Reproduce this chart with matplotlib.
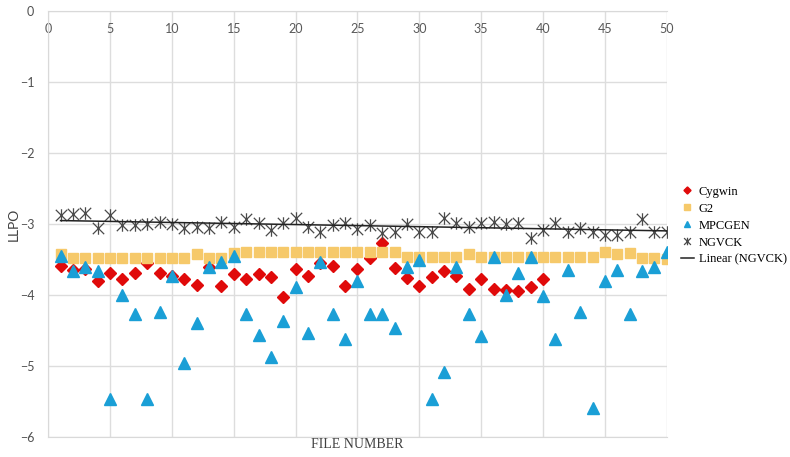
import numpy as np
import matplotlib.pyplot as plt
from matplotlib.path import Path

files = np.arange(1, 51)

cygwin = [-3.59, -3.65, -3.63, -3.80, -3.69, -3.77, -3.69, -3.55, -3.69, -3.74,
          -3.77, -3.86, -3.61, -3.87, -3.70, -3.77, -3.70, -3.75, -4.03, -3.64,
          -3.73, -3.55, -3.59, -3.88, -3.64, -3.48, -3.27, -3.62, -3.76, -3.87,
          -3.75, -3.66, -3.73, -3.92, -3.78, -3.91, -3.93, -3.94, -3.89, -3.77]

g2 = [-3.42, -3.48, -3.48, -3.48, -3.48, -3.48, -3.48, -3.48, -3.48, -3.48,
      -3.48, -3.42, -3.48, -3.48, -3.41, -3.40, -3.40, -3.40, -3.40, -3.40,
      -3.40, -3.40, -3.40, -3.40, -3.40, -3.40, -3.40, -3.40, -3.47, -3.47,
      -3.46, -3.46, -3.46, -3.42, -3.46, -3.46, -3.46, -3.46, -3.46, -3.46,
      -3.46, -3.46, -3.46, -3.46, -3.40, -3.42, -3.41, -3.48, -3.48, -3.50]

mpcgen = [-3.45, -3.66, -3.61, -3.66, -5.47, -4.00, -4.27, -5.47, -4.24, -3.73,
          -4.96, -4.40, -3.60, -3.53, -3.45, -4.27, -4.56, -4.88, -4.37, -3.89,
          -4.54, -3.54, -4.27, -4.62, -3.81, -4.27, -4.27, -4.46, -3.60, -3.51,
          -5.46, -5.09, -3.60, -4.27, -4.58, -3.46, -4.00, -3.69, -3.46, -4.02,
          -4.62, -3.65, -4.24, -5.60, -3.80, -3.65, -4.27, -3.67, -3.60, -3.40]

ngvck = [-2.87, -2.86, -2.84, -3.06, -2.87, -3.01, -3.02, -3.00, -2.97, -3.00,
         -3.06, -3.04, -3.06, -2.97, -3.04, -2.93, -2.99, -3.08, -2.98, -2.91,
         -3.04, -3.11, -3.01, -2.98, -3.07, -3.01, -3.13, -3.11, -3.00, -3.11,
         -3.12, -2.92, -2.99, -3.04, -2.99, -2.97, -3.00, -2.99, -3.20, -3.08,
         -2.98, -3.12, -3.06, -3.11, -3.15, -3.15, -3.11, -2.93, -3.11, -3.11]

# x with a vertical bar through it
star = Path([(-1, -1), (1, 1), (-1, 1), (1, -1), (0, -1.1), (0, 1.1)],
            [Path.MOVETO, Path.LINETO, Path.MOVETO, Path.LINETO, Path.MOVETO, Path.LINETO])

fig = plt.figure(figsize=(7.9, 4.57), dpi=100)
ax = fig.add_axes([0.061, 0.044, 0.783, 0.932])

ax.plot(files[:len(cygwin)], cygwin, 'D', color='#E00A0A', markersize=6, label='Cygwin', zorder=3)
ax.plot(files, g2, 's', color='#F6C96A', markersize=7.3, label='G2', zorder=4)
ax.plot(files, mpcgen, '^', color='#1A9FD6', markersize=8, label='MPCGEN', zorder=5)
ax.plot(files, ngvck, linestyle='none', marker=star, markersize=9, markerfacecolor='none',
        markeredgecolor='#4A4A4A', markeredgewidth=0.9, label='NGVCK', zorder=6)

# linear trend of NGVCK
k, b = np.polyfit(files, ngvck, 1)
ax.plot(files, k * files + b, color='#222222', linewidth=1.1, label='Linear (NGVCK)', zorder=7)

ax.set_xlim(0, 50)
ax.set_ylim(-6, 0)
ax.set_xticks(np.arange(0, 51, 5))
ax.set_yticks(np.arange(-6, 1, 1))
ax.grid(True, color='#DDDDDD', linewidth=1)
ax.set_axisbelow(True)
for s in ax.spines.values():
    s.set_color('#D9D9D9')
ax.spines['right'].set_visible(False)

ax.xaxis.set_ticks_position('top')
ax.tick_params(axis='x', which='both', length=0, labeltop=True, labelbottom=False,
               pad=-17, labelsize=9, labelcolor='#595959')
ax.tick_params(axis='y', length=0, pad=10, labelsize=9, labelcolor='#505050')
for t in ax.get_xticklabels() + ax.get_yticklabels():
    t.set_fontfamily('Lato')

ax.set_ylabel('LLPO', fontsize=10, color='#404040', family='Lato', labelpad=0)
ax.xaxis.set_label_position('bottom')
ax.set_xlabel('FILE NUMBER', fontsize=10, color='#404040', family='Liberation Serif', labelpad=1)

fig.legend(loc='upper left', bbox_to_anchor=(0.856, 0.605), frameon=False,
           prop={'family': 'Liberation Serif', 'size': 9}, markerscale=0.6,
           handlelength=1.0, handletextpad=0.4, labelspacing=0.4, borderaxespad=0)

fig.savefig('out.png', dpi=100)
